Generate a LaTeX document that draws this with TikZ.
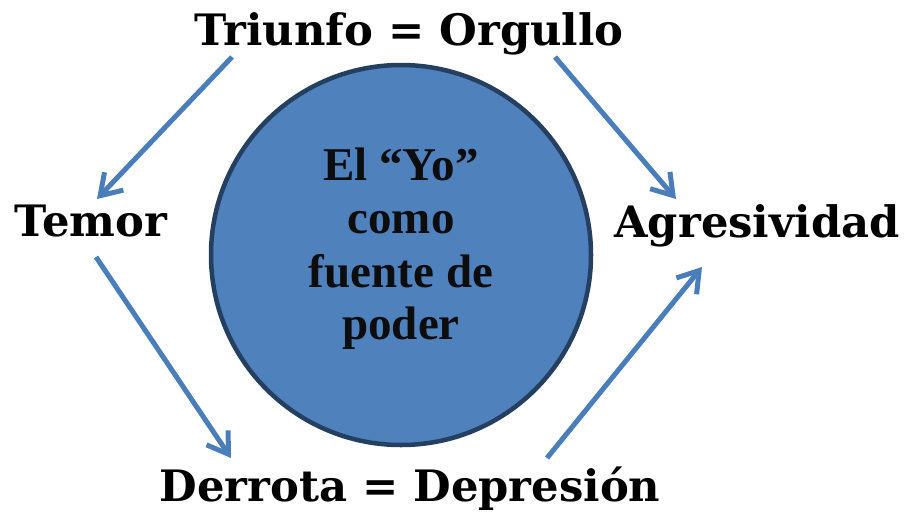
\documentclass[tikz,border=0pt]{standalone}
\usepackage{fontspec}
\setmainfont{Liberation Serif}
\newfontfamily\outerfont{DejaVu Serif}
\usetikzlibrary{arrows.meta}
\definecolor{fillblue}{HTML}{4F81BD}
\definecolor{edgeblue}{HTML}{243F60}
\definecolor{arrowblue}{HTML}{4A7EBB}
\definecolor{inktext}{HTML}{0D0D0D}
\tikzset{
  outerlabel/.style={font=\outerfont\bfseries\fontsize{43.3}{43.3}\selectfont, anchor=base, inner sep=0pt},
  innerline/.style={font=\bfseries\fontsize{47}{47}\selectfont, text=inktext, anchor=base, inner sep=0pt},
  flowarrow/.style={draw=arrowblue, line width=5pt, -{Straight Barb[length=20pt,width=26pt,line width=5pt]}},
}
\begin{document}
\begin{tikzpicture}[x=1pt,y=-1pt]
\useasboundingbox (0,0) rectangle (904,515);
\fill[white] (0,0) rectangle (904,515);
\node[draw=edgeblue, line width=4.5pt, fill=fillblue, circle, minimum size=380pt, inner sep=0pt] (yo) at (401,255) {};
\node[innerline] (l1) at (401,180) {El “Yo”};
\node[innerline] (l2) at (401,233) {como};
\node[innerline] (l3) at (401,287) {fuente de};
\node[innerline] (l4) at (401,339) {poder};
\node[outerlabel] (triunfo) at (409,45) {Triunfo = Orgullo};
\node[outerlabel] (temor) at (91,236) {Temor};
\node[outerlabel] (agres) at (757,237) {Agresividad};
\node[outerlabel] (derrota) at (410,501) {Derrota = Depresión};
\coordinate (a1s) at (232,57);
\coordinate (a1e) at (97,199);
\coordinate (a2s) at (555,57);
\coordinate (a2e) at (676,199);
\coordinate (a3s) at (96,257);
\coordinate (a3e) at (231,458);
\coordinate (a4s) at (547,458);
\coordinate (a4e) at (702,267);
\draw[flowarrow] (a1s) -- (a1e);
\draw[flowarrow] (a2s) -- (a2e);
\draw[flowarrow] (a3s) -- (a3e);
\draw[flowarrow] (a4s) -- (a4e);
\end{tikzpicture}
\end{document}
